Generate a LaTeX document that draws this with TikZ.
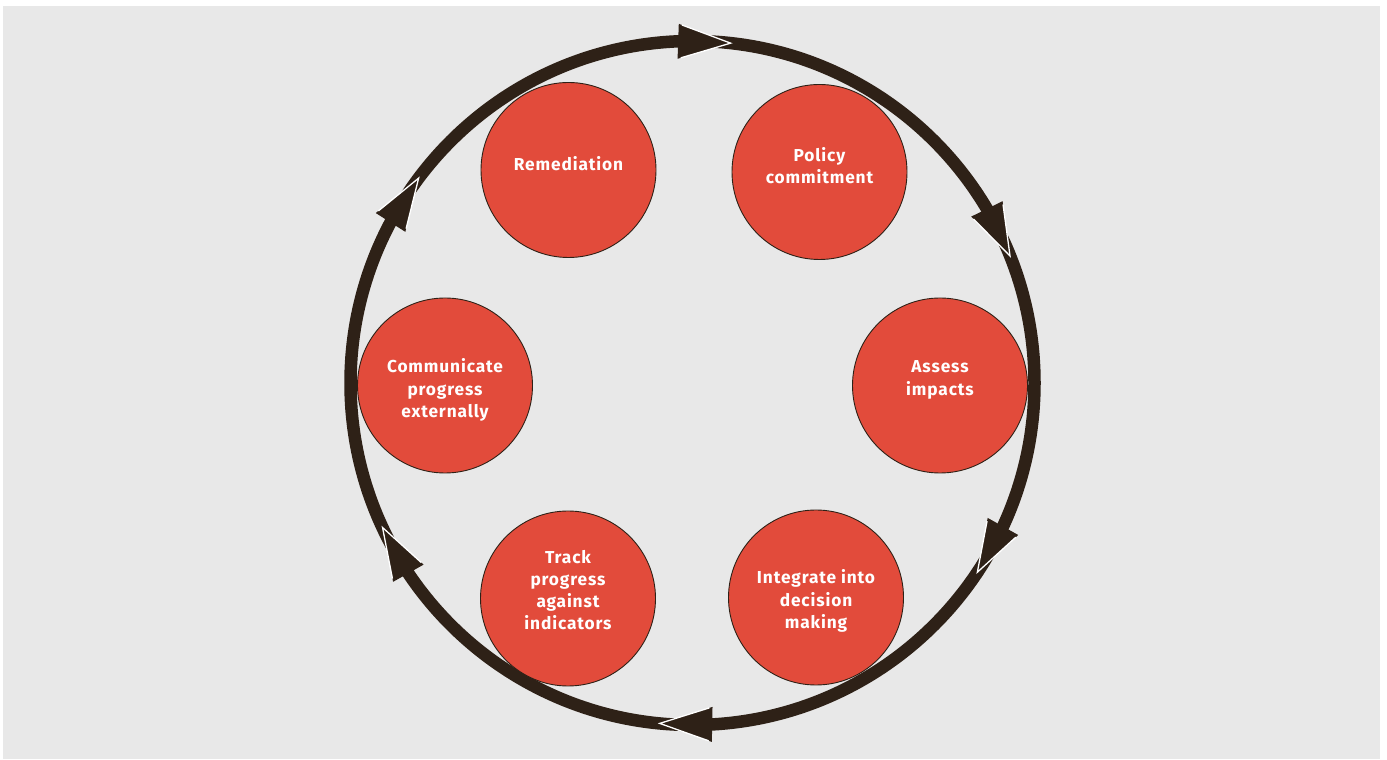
\documentclass[tikz,border=0pt]{standalone}
\usepackage{fontspec}
\setmainfont[LetterSpace=5]{Fira Sans}
\usetikzlibrary{calc}
\definecolor{bgc}{HTML}{E8E8E8}
\definecolor{ringc}{HTML}{2E2117}
\definecolor{discc}{HTML}{E24B3B}
\tikzset{
  stage/.style={circle, draw=ringc, line width=0.9pt, fill=discc, minimum size=175pt, inner sep=0pt},
  stagetext/.style={text=white, align=center, font=\fontsize{17.3}{22.2}\selectfont\bfseries, inner sep=0pt},
}
\newcommand\cyclearrow[1]{%
  \coordinate (tip) at ($(O)+(#1:342)$);
  \coordinate (bs) at ($(O)+(#1+8.8:342)$);
  \coordinate (c1) at ($(bs)!17.5pt!90:(tip)$);
  \coordinate (c2) at ($(bs)!17.5pt!-90:(tip)$);
  \fill[ringc] (tip) -- (c1) -- (c2) -- cycle;
  \draw[white, line width=1.3pt, line join=miter, line cap=butt] ($(c1)!0.06!(tip)$) -- (tip) -- ($(c2)!0.06!(tip)$);
}
\begin{document}
\begin{tikzpicture}[x=1pt,y=1pt]
\useasboundingbox (0,0) rectangle (1387,760);
\fill[bgc] (3,1) rectangle (1380,754);
\coordinate (O) at (692.5,377);
\draw[ringc, line width=12.5pt] (O) circle[radius=342];
\cyclearrow{83.6}
\cyclearrow{21.8}
\cyclearrow{-33.6}
\cyclearrow{-95.5}
\cyclearrow{-155}
\cyclearrow{143.2}
% stages
\node[stage] (rem) at (568.5,590) {};
\node[stage] (pol) at (819.5,588) {};
\node[stage] (ass) at (940,374.5) {};
\node[stage] (int) at (816,162.5) {};
\node[stage] (tra) at (568,161.5) {};
\node[stage] (com) at (445,374.5) {};
\node[stagetext] (remt) at (568.5,596) {Remediation};
\node[stagetext] (polt) at (819.5,594) {Policy\\commitment};
\node[stagetext] (asst) at (940,380) {Assess\\impacts};
\node[stagetext] (intt) at (816,159) {Integrate into\\decision\\making};
\node[stagetext] (trat) at (568,170) {Track\\progress\\against\\indicators};
\node[stagetext] (comt) at (445,370) {Communicate\\progress\\externally};
\end{tikzpicture}
\end{document}
